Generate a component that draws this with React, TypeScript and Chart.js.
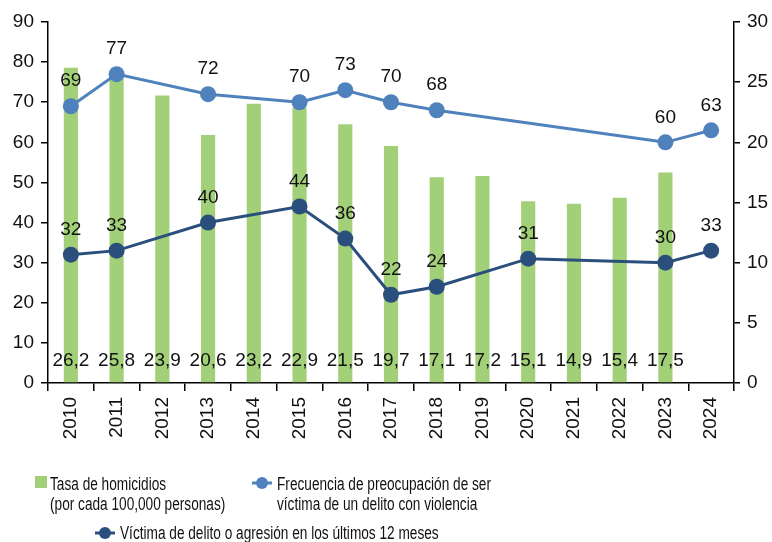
import React, { useEffect, useRef } from "react";
import { Chart, registerables } from "chart.js";

Chart.register(...registerables);

const years = ["2010", "2011", "2012", "2013", "2014", "2015", "2016", "2017", "2018", "2019", "2020", "2021", "2022", "2023", "2024"];
const homicideRate = [26.2, 25.8, 23.9, 20.6, 23.2, 22.9, 21.5, 19.7, 17.1, 17.2, 15.1, 14.9, 15.4, 17.5, null];
const worryFreq = [69, 77, null, 72, null, 70, 73, 70, 68, null, null, null, null, 60, 63];
const victimRate = [32, 33, null, 40, null, 44, 36, 22, 24, null, 31, null, null, 30, 33];
const leftTicksMax = 90;
const rightTicksMax = 30;

const homicideLabel = ["Tasa de homicidios", "(por cada 100,000 personas)"];
const worryLabel = ["Frecuencia de preocupación de ser", "víctima de un delito con violencia"];
const victimLabel = ["Víctima de delito o agresión en los últimos 12 meses"];

const GREEN = "#a2d078";
const LIGHT_BLUE = "#4f81bd";
const DARK_BLUE = "#2b4f7c";

function available(name: string): boolean {
  const c = document.createElement("canvas").getContext("2d")!;
  const s = "abcdefghijklmnopqrstuvwxyz0123456789ABCDEFGHIJ";
  for (const base of ["monospace", "serif"]) {
    c.font = `40px ${base}`;
    const w0 = c.measureText(s).width;
    c.font = `40px "${name}", ${base}`;
    const w1 = c.measureText(s).width;
    if (Math.abs(w0 - w1) > 0.5) return true;
  }
  return false;
}

function pick(cands: string[]): string {
  for (const c of cands) if (available(c)) return `"${c}"`;
  return "sans-serif";
}

export default function App() {
  const ref = useRef<HTMLCanvasElement | null>(null);
  useEffect(() => {
    let chart: any = null;
    let cancelled = false;
    const loads = ["Liberation Sans", "Arimo", "Arial"].map((f) =>
      (document as any).fonts ? (document as any).fonts.load(`19px "${f}"`).catch(() => null) : Promise.resolve()
    );
    Promise.all(loads).then(() => {
      if (cancelled || !ref.current) return;
      const FONT = pick(["Liberation Sans", "Arimo", "Arial", "Helvetica"]) + ", sans-serif";

      const labelsPlugin = {
        id: "valueLabels",
        afterDatasetsDraw(ch: any) {
          const ctx = ch.ctx;
          ctx.save();
          ctx.fillStyle = "#111";
          ctx.font = `19px ${FONT}`;
          ctx.textAlign = "center";
          ctx.textBaseline = "middle";
          ch.data.datasets.forEach((ds: any, di: number) => {
            const meta = ch.getDatasetMeta(di);
            meta.data.forEach((el: any, i: number) => {
              const v = ds.data[i];
              if (v === null || v === undefined) return;
              if (ds.type === "bar") {
                ctx.fillText(v.toFixed(1).replace(".", ","), el.x, ch.chartArea.bottom - 22);
              } else {
                ctx.fillText(String(v), el.x, el.y - 25);
              }
            });
          });
          ctx.restore();
        },
      };

      const legendPlugin = {
        id: "customLegend",
        afterDraw(ch: any) {
          const ctx = ch.ctx;
          const ds = ch.data.datasets;
          const narrowText = (t: string, x: number, y: number) => {
            ctx.save();
            ctx.translate(x, y);
            ctx.scale(0.78, 1);
            ctx.fillText(t, 0, 0);
            ctx.restore();
          };
          ctx.save();
          ctx.font = `17.5px ${FONT}`;
          ctx.textAlign = "left";
          ctx.textBaseline = "alphabetic";
          const bar = ds[2];
          ctx.fillStyle = bar.backgroundColor;
          ctx.fillRect(35, 476, 12, 12);
          ctx.fillStyle = "#111";
          bar.legendLines.forEach((t: string, i: number) => narrowText(t, 50, 490 + i * 20));
          const drawLineMarker = (cx: number, cy: number, color: string) => {
            ctx.strokeStyle = color;
            ctx.lineWidth = 3;
            ctx.beginPath();
            ctx.moveTo(cx - 10, cy);
            ctx.lineTo(cx + 10, cy);
            ctx.stroke();
            ctx.fillStyle = color;
            ctx.beginPath();
            ctx.arc(cx, cy, 6, 0, Math.PI * 2);
            ctx.fill();
          };
          const worry = ds[0];
          drawLineMarker(262, 483, worry.borderColor);
          ctx.fillStyle = "#111";
          worry.legendLines.forEach((t: string, i: number) => narrowText(t, 277, 490 + i * 20));
          const vict = ds[1];
          drawLineMarker(105, 533, vict.borderColor);
          ctx.fillStyle = "#111";
          vict.legendLines.forEach((t: string, i: number) => narrowText(t, 120, 539 + i * 20));
          ctx.restore();
        },
      };

      chart = new Chart(ref.current, {
        type: "bar",
        data: {
          labels: years,
          datasets: [
            {
              type: "line",
              label: worryLabel.join(" "),
              legendLines: worryLabel,
              data: worryFreq,
              yAxisID: "y",
              borderColor: LIGHT_BLUE,
              backgroundColor: LIGHT_BLUE,
              borderWidth: 3,
              pointRadius: 8,
              pointHoverRadius: 8,
              pointBorderWidth: 0,
              spanGaps: true,
              order: 1,
            } as any,
            {
              type: "line",
              label: victimLabel.join(" "),
              legendLines: victimLabel,
              data: victimRate,
              yAxisID: "y",
              borderColor: DARK_BLUE,
              backgroundColor: DARK_BLUE,
              borderWidth: 3,
              pointRadius: 8,
              pointHoverRadius: 8,
              pointBorderWidth: 0,
              spanGaps: true,
              order: 2,
            } as any,
            {
              type: "bar",
              label: homicideLabel.join(" "),
              legendLines: homicideLabel,
              data: homicideRate,
              yAxisID: "y1",
              backgroundColor: GREEN,
              barPercentage: 0.31,
              categoryPercentage: 1,
              order: 3,
            } as any,
          ],
        },
        options: {
          animation: false,
          responsive: false,
          devicePixelRatio: 1,
          layout: { padding: { top: 22, left: 0, right: 0, bottom: 0 } },
          plugins: { legend: { display: false }, tooltip: { enabled: false } },
          scales: {
            x: {
              offset: true,
              grid: { display: true, drawOnChartArea: false, drawTicks: true, tickLength: 8, color: "#000", offset: true, lineWidth: 1.5 },
              border: { display: true, color: "#000", width: 1.5 },
              ticks: { minRotation: 90, maxRotation: 90, color: "#111", font: { size: 19, family: FONT }, padding: 6, autoSkip: false },
              afterFit: (s: any) => { s.height = 159; },
            },
            y: {
              position: "left",
              min: 0,
              max: leftTicksMax,
              ticks: { stepSize: 10, color: "#111", font: { size: 19, family: FONT }, padding: 7 },
              grid: { display: true, drawOnChartArea: false, drawTicks: true, tickLength: 7, color: "#000", lineWidth: 1.5 },
              border: { display: true, color: "#000", width: 1.5 },
              afterFit: (s: any) => { s.width = 48; },
            },
            y1: {
              position: "right",
              min: 0,
              max: rightTicksMax,
              ticks: { stepSize: 5, color: "#111", font: { size: 19, family: FONT }, padding: 7 },
              grid: { display: true, drawOnChartArea: false, drawTicks: true, tickLength: 6, color: "#000", lineWidth: 1.5 },
              border: { display: true, color: "#000", width: 1.5 },
              afterFit: (s: any) => { s.width = 38; },
            },
          },
        } as any,
        plugins: [labelsPlugin, legendPlugin],
      });
    });
    return () => {
      cancelled = true;
      if (chart) chart.destroy();
    };
  }, []);
  return (
    <div style={{ position: "fixed", left: 0, top: 0, width: 772, height: 542, background: "#fff" }}>
      <canvas ref={ref} width={772} height={542} style={{ display: "block" }} />
    </div>
  );
}
